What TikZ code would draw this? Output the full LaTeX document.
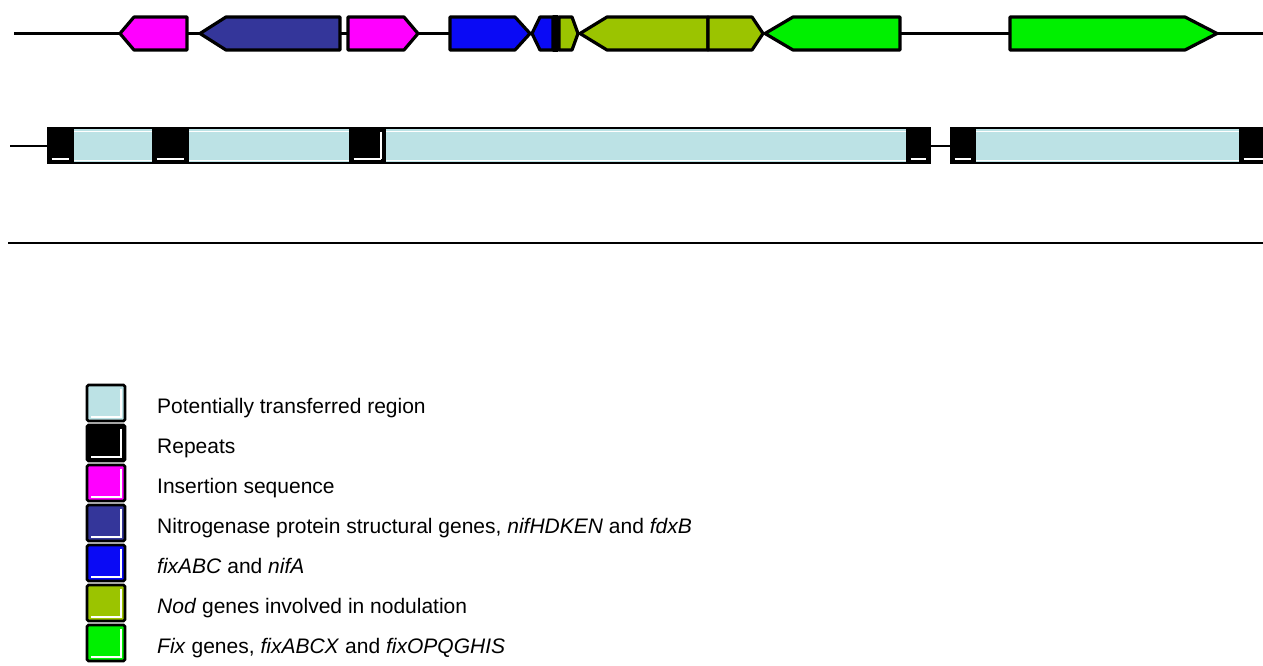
\documentclass[tikz,border=0pt]{standalone}
\usepackage{fontspec}
\setmainfont{Liberation Sans}
\definecolor{isPink}{HTML}{FF00FF}
\definecolor{nifNavy}{HTML}{34369A}
\definecolor{fixBlue}{HTML}{0A0AF5}
\definecolor{nodOlive}{HTML}{9BC400}
\definecolor{fixGreen}{HTML}{00F000}
\definecolor{regionCyan}{HTML}{BCE2E5}

\tikzset{
  backbone/.style={draw=black, line width=3.2pt},
  thinbone/.style={draw=black, line width=2.6pt},
  gene/.style={draw=black, line width=3.2pt, line join=round},
  boxedge/.style={draw=black, line width=2.8pt},
  keytext/.style={anchor=base west, inner sep=0pt, font=\fontsize{21}{24}\selectfont},
}

% gene pointing right: colour, left end, shoulder, tip
\newcommand\geneR[4]{\draw[gene, fill=#1] (#2,17) -- (#3,17) -- (#4,33.5) -- (#3,50) -- (#2,50) -- cycle;}
% gene pointing left: colour, tip, shoulder, right end
\newcommand\geneL[4]{\draw[gene, fill=#1] (#2,33.5) -- (#3,17) -- (#4,17) -- (#4,50) -- (#3,50) -- cycle;}

% repeat block on the lower track: left, right
\newcommand\repblock[2]{%
  \fill[black] (#1,128) rectangle (#2,163);
  \draw[white, line width=2pt] (#1+3.5,159) -- (#2-4.5,159);
  \draw[boxedge] (#1,128) rectangle (#2,163);}
% transferred region block: left, right
\newcommand\regblock[2]{%
  \fill[regionCyan] (#1,128) rectangle (#2,163);
  \draw[white, line width=1pt] (#1+1,131) -- (#2-1,131);
  \draw[white, line width=1pt] (#1+1,160) -- (#2-1,160);
  \draw[boxedge] (#1,128) rectangle (#2,163);}
% key swatch: colour, top
\newcommand\keyswatch[2]{%
  \fill[#1] (87,#2) rectangle (125,#2+36);
  \draw[white, line width=2pt] (121,#2+3.5) -- (121,#2+32) -- (90.5,#2+32);
  \draw[boxedge, rounded corners=1.5pt] (87,#2) rectangle (125,#2+36);}

\begin{document}
\begin{tikzpicture}[x=1pt,y=-1pt]
\useasboundingbox (0,0) rectangle (1263,665);

% upper track: backbone and genes
\draw[backbone] (14,33.5) -- (1263,33.5);
\geneL{isPink}{120}{134}{187}
\geneL{nifNavy}{200}{226}{340}
\geneR{isPink}{348}{404}{418}
\geneR{fixBlue}{450}{515}{530}
\geneL{fixBlue}{532}{540}{553}
\draw[gene, fill=black] (553.5,17) rectangle (557.5,50);
\geneR{nodOlive}{559}{572}{578}
\geneL{nodOlive}{580}{607}{708}
\geneR{nodOlive}{708}{752}{763}
\geneL{fixGreen}{765}{793}{900}
\geneR{fixGreen}{1010}{1185}{1217}

% lower track: repeats and transferred regions
\draw[thinbone] (10,146) -- (48,146);
\draw[thinbone] (930,146) -- (951,146);
\repblock{48}{73}
\regblock{73}{153}
\repblock{153}{188}
\regblock{188}{350}
\repblock{350}{385}
\draw[white, line width=2pt] (381,131.5) -- (381,159);
\regblock{385}{907}
\repblock{907}{930}
\repblock{951}{975}
\regblock{975}{1240}
\repblock{1240}{1268}

% scale line
\draw[thinbone] (8,243) -- (1263,243);

% key
\keyswatch{regionCyan}{385}
\keyswatch{black}{425}
\keyswatch{isPink}{465}
\keyswatch{nifNavy}{505}
\keyswatch{fixBlue}{545}
\keyswatch{nodOlive}{585}
\keyswatch{fixGreen}{625}

\node[keytext] (k1) at (157,413) {Potentially transferred region};
\node[keytext] (k2) at (157,453) {Repeats};
\node[keytext] (k3) at (157,493) {Insertion sequence};
\node[keytext] (k4) at (157,533) {Nitrogenase protein structural genes, \textit{nifHDKEN} and \textit{fdxB}};
\node[keytext] (k5) at (157,573) {\textit{fixABC} and \textit{nifA}};
\node[keytext] (k6) at (157,613) {\textit{Nod} genes involved in nodulation};
\node[keytext] (k7) at (157,653) {\textit{Fix} genes, \textit{fixABCX} and \textit{fixOPQGHIS}};
\end{tikzpicture}
\end{document}
